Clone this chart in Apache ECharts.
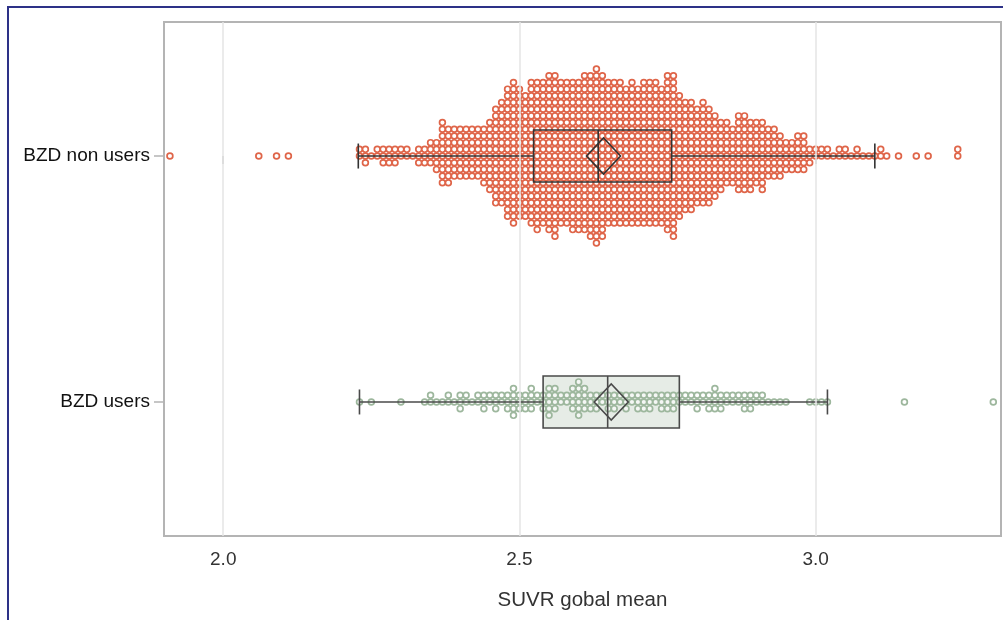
<!DOCTYPE html>
<html>
<head>
<meta charset="utf-8">
<script src="https://cdn.jsdelivr.net/npm/echarts@6/dist/echarts.min.js"></script>
<style>html,body{margin:0;padding:0;background:#fff;}#chart{width:1003px;height:620px;}</style>
</head>
<body>
<div id="chart"></div>
<script>
// ---- data ----
const categories = ['BZD non users', 'BZD users'];
const xTicks = [2.0, 2.5, 3.0];
// [value, number of subjects with that value]
const nonUsersCounts = [
  [1.91,1],[2.06,1],[2.09,1],[2.11,1],
  [2.23,2],[2.24,3],[2.25,1],[2.26,2],[2.27,3],[2.28,3],[2.29,3],[2.30,2],[2.31,2],[2.32,1],
  [2.33,3],[2.34,3],[2.35,4],[2.36,5],[2.37,10],[2.38,9],[2.39,8],[2.40,8],[2.41,8],[2.42,8],
  [2.43,8],[2.44,9],[2.45,11],[2.46,15],[2.47,16],[2.48,20],[2.49,22],[2.50,20],[2.51,19],
  [2.52,22],[2.53,23],[2.54,22],[2.55,24],[2.56,25],[2.57,22],[2.58,22],[2.59,23],[2.60,23],
  [2.61,24],[2.62,25],[2.63,27],[2.64,25],[2.65,22],[2.66,22],[2.67,22],[2.68,21],[2.69,22],
  [2.70,21],[2.71,22],[2.72,22],[2.73,22],[2.74,21],[2.75,24],[2.76,25],[2.77,19],[2.78,17],
  [2.79,17],[2.80,15],[2.81,16],[2.82,15],[2.83,13],[2.84,11],[2.85,10],[2.86,9],[2.87,12],
  [2.88,12],[2.89,11],[2.90,10],[2.91,11],[2.92,8],[2.93,8],[2.94,7],[2.95,5],[2.96,5],[2.97,6],
  [2.98,6],[2.99,3],[3.00,2],[3.01,2],[3.02,2],[3.03,1],[3.04,2],[3.05,2],[3.06,1],[3.07,2],
  [3.08,1],[3.09,1],[3.10,1],
  [3.11,2],[3.12,1],[3.14,1],[3.17,1],[3.19,1],[3.24,2]
];
const usersCounts = [
  [2.23,1],[2.25,1],[2.30,1],[2.34,1],[2.35,2],[2.36,1],[2.37,1],[2.38,2],[2.39,1],[2.40,3],
  [2.41,2],[2.42,1],[2.43,2],[2.44,3],[2.45,2],[2.46,3],[2.47,2],[2.48,3],[2.49,5],[2.50,3],
  [2.51,3],[2.52,4],[2.53,2],[2.54,3],[2.55,5],[2.56,4],[2.57,2],[2.58,2],[2.59,4],[2.60,6],
  [2.61,4],[2.62,3],[2.63,3],[2.64,2],[2.65,3],[2.66,3],[2.67,2],[2.68,3],[2.69,2],[2.70,3],
  [2.71,3],[2.72,3],[2.73,2],[2.74,3],[2.75,3],[2.76,3],[2.77,2],[2.78,2],[2.79,2],[2.80,3],
  [2.81,2],[2.82,3],[2.83,4],[2.84,3],[2.85,2],[2.86,2],[2.87,2],[2.88,3],[2.89,3],[2.90,2],
  [2.91,2],[2.92,1],[2.93,1],[2.94,1],[2.95,1],[2.99,1],[3.00,1],[3.01,1],[3.02,1],
  [3.15,1],[3.30,1]
];
// [whisker low, Q1, median, Q3, whisker high]
const nonUsersBox = [2.228, 2.524, 2.633, 2.757, 3.100];
const usersBox = [2.230, 2.540, 2.649, 2.770, 3.020];
const means = [2.642, 2.655];

// ---- build marks ----
const STEP = 0.0272; // vertical spacing of stacked points (y-axis units)
function swarm(counts, cat) {
  const pts = [];
  counts.forEach(([v, n]) => {
    for (let k = 0; k < n; k++) {
      const r = k === 0 ? 0 : (k % 2 ? -(k + 1) / 2 : k / 2);
      pts.push([v, cat + r * STEP]);
    }
  });
  return pts;
}
const boxData = [
  [0].concat(nonUsersBox, [means[0]]),
  [1].concat(usersBox, [means[1]])
];
const BOX_H = 26, CAP_H = 12.5, DIA_W = 17, DIA_H = 18;
const boxFill = ['rgba(0,0,0,0)', '#e6ece6'];
const boxStroke = ['#333333', '#4a4a4a'];

function renderFill(params, api) {
  const cat = api.value(0);
  const p1 = api.coord([api.value(2), cat]);
  const p3 = api.coord([api.value(4), cat]);
  return {
    type: 'rect',
    shape: { x: p1[0], y: p1[1] - BOX_H, width: p3[0] - p1[0], height: 2 * BOX_H },
    style: { fill: boxFill[cat], stroke: null }
  };
}
function renderLines(params, api) {
  const cat = api.value(0);
  const lo = api.coord([api.value(1), cat]);
  const q1 = api.coord([api.value(2), cat]);
  const md = api.coord([api.value(3), cat]);
  const q3 = api.coord([api.value(4), cat]);
  const hi = api.coord([api.value(5), cat]);
  const mn = api.coord([api.value(6), cat]);
  const st = { stroke: boxStroke[cat], lineWidth: 1.6, fill: null };
  const y = lo[1];
  return {
    type: 'group',
    children: [
      { type: 'line', shape: { x1: lo[0], y1: y, x2: q1[0], y2: y }, style: st },
      { type: 'line', shape: { x1: q3[0], y1: y, x2: hi[0], y2: y }, style: st },
      { type: 'line', shape: { x1: lo[0], y1: y - CAP_H, x2: lo[0], y2: y + CAP_H }, style: st },
      { type: 'line', shape: { x1: hi[0], y1: y - CAP_H, x2: hi[0], y2: y + CAP_H }, style: st },
      { type: 'rect', shape: { x: q1[0], y: y - BOX_H, width: q3[0] - q1[0], height: 2 * BOX_H }, style: st },
      { type: 'line', shape: { x1: md[0], y1: y - BOX_H, x2: md[0], y2: y + BOX_H }, style: st },
      { type: 'polygon', shape: { points: [[mn[0] - DIA_W, y], [mn[0], y - DIA_H], [mn[0] + DIA_W, y], [mn[0], y + DIA_H]] }, style: st }
    ]
  };
}

const chart = echarts.init(document.getElementById('chart'), null, { renderer: 'canvas' });
const FONT = 'Liberation Sans, Arial, sans-serif';
chart.setOption({
  animation: false,
  backgroundColor: '#ffffff',
  grid: { left: 164, right: 2, top: 22, bottom: 84, show: true, borderColor: '#b4b4b4', borderWidth: 2, backgroundColor: 'transparent' },
  xAxis: {
    type: 'value', min: 1.9, max: 3.313,
    axisLine: { show: false },
    axisTick: { show: true, customValues: xTicks, length: 8, lineStyle: { color: '#b4b4b4', width: 1.5 } },
    axisLabel: { customValues: xTicks, formatter: v => v.toFixed(1), fontSize: 19, color: '#333', margin: 14, fontFamily: FONT },
    splitLine: { show: false },
    name: 'SUVR gobal mean', nameLocation: 'middle', nameGap: 54,
    nameTextStyle: { fontSize: 20.5, color: '#333', fontFamily: FONT }
  },
  yAxis: {
    type: 'value', inverse: true, min: -0.545, max: 1.545,
    axisLine: { show: false },
    axisTick: { show: true, customValues: [0, 1], length: 10, lineStyle: { color: '#b4b4b4', width: 1.5 } },
    axisLabel: { customValues: [0, 1], formatter: v => categories[Math.round(v)], fontSize: 19, color: '#111', margin: 14, fontFamily: FONT },
    splitLine: { show: false }
  },
  graphic: [{
    type: 'polyline', silent: true, z: 100,
    shape: { points: [[8, 620], [8, 7], [1003, 7]] },
    style: { stroke: '#2d3187', lineWidth: 2, fill: null }
  }],
  series: [
    { type: 'custom', renderItem: renderFill, data: boxData, z: 1, encode: { x: [1, 5], y: 0 },
      markLine: { silent: true, symbol: ['none', 'none'], label: { show: false },
        lineStyle: { color: '#e4e4e4', width: 1.5, type: 'solid' },
        data: xTicks.map(v => ({ xAxis: v })) } },
    { type: 'scatter', data: swarm(nonUsersCounts, 0), symbol: 'circle', symbolSize: 5.8, z: 2,
      itemStyle: { color: '#ffffff', borderColor: '#df6549', borderWidth: 1.7, opacity: 1 } },
    { type: 'scatter', data: swarm(usersCounts, 1), symbol: 'circle', symbolSize: 5.8, z: 2,
      itemStyle: { color: 'rgba(255,255,255,0.6)', borderColor: '#9db79d', borderWidth: 1.7, opacity: 1 } },
    { type: 'custom', renderItem: renderLines, data: boxData, z: 3, encode: { x: [1, 5], y: 0 } }
  ]
});
</script>
</body>
</html>
